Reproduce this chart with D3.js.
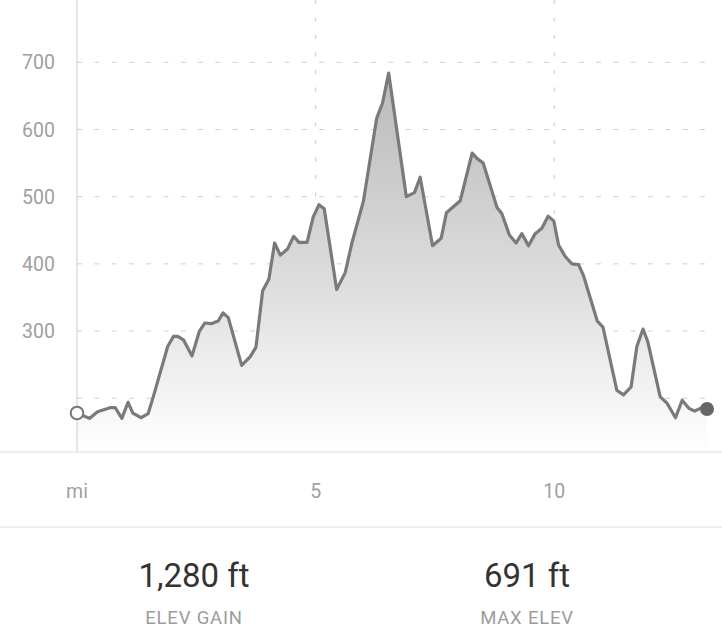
<!DOCTYPE html>
<html>
<head>
<meta charset="utf-8">
<script src="https://cdn.jsdelivr.net/npm/d3@7"></script>
<style>
  html, body { margin: 0; padding: 0; background: #fff; }
  svg { display: block; }
  text { font-family: Roboto, "Liberation Sans", sans-serif; }
</style>
</head>
<body>
<svg id="chart" width="722" height="642"></svg>
<script>
// Distance (miles) along the route
const distance = [0, 0.26, 0.43, 0.69, 0.80, 0.94, 1.07, 1.17, 1.34, 1.49,
  1.61, 1.90, 2.02, 2.11, 2.23, 2.41, 2.56, 2.68, 2.81, 2.96,
  3.06, 3.17, 3.45, 3.63, 3.75, 3.89, 4.02, 4.14, 4.26, 4.41,
  4.54, 4.65, 4.82, 4.95, 5.07, 5.18, 5.44, 5.62, 5.76, 6.00,
  6.28, 6.40, 6.53, 6.90, 7.07, 7.19, 7.45, 7.63, 7.74, 8.03,
  8.28, 8.38, 8.51, 8.80, 8.90, 9.06, 9.20, 9.32, 9.46, 9.60,
  9.74, 9.87, 9.99, 10.09, 10.23, 10.37, 10.51, 10.61, 10.90, 11.02,
  11.31, 11.45, 11.61, 11.73, 11.86, 11.96, 12.22, 12.36, 12.54, 12.68,
  12.82, 12.94, 13.06, 13.20];
// Elevation (ft)
const elevation = [178, 170, 180, 186, 186, 170, 194, 178, 171, 177,
  205, 277, 292, 292, 287, 263, 299, 312, 311, 315,
  327, 320, 249, 262, 276, 360, 377, 431, 413, 422,
  441, 432, 432, 470, 488, 482, 362, 387, 431, 493,
  617, 639, 684, 500, 506, 529, 427, 438, 476, 494,
  565, 557, 550, 484, 475, 443, 431, 445, 427, 445,
  453, 471, 464, 428, 411, 400, 399, 383, 315, 306,
  212, 205, 217, 277, 303, 284, 202, 193, 171, 197,
  185, 181, 185, 184];
const yTicks = [200, 300, 400, 500, 600, 700];
const yTickLabels = ["", "300", "400", "500", "600", "700"];
const xTicks = [0, 5, 10];
const xTickLabels = ["mi", "5", "10"];
const statValues = ["1,280 ft", "691 ft"];
const statLabels = ["ELEV GAIN", "MAX ELEV"];

const data = distance.map((d, i) => ({ d, e: elevation[i] }));

const svg = d3.select("#chart");
const x0 = 77, x1 = 707, yBase = 452, yTop700 = 62.3;

const x = d3.scaleLinear().domain([0, 13.2]).range([x0, x1]);
const y = d3.scaleLinear().domain([120, 700]).range([yBase, yTop700]);

// gradient
const defs = svg.append("defs");
const grad = defs.append("linearGradient")
  .attr("id", "fillGrad").attr("gradientUnits", "userSpaceOnUse")
  .attr("x1", 0).attr("x2", 0).attr("y1", y(700)).attr("y2", yBase);
grad.append("stop").attr("offset", "0%").attr("stop-color", "#b8b8b8");
grad.append("stop").attr("offset", "55%").attr("stop-color", "#dcdcdc");
grad.append("stop").attr("offset", "100%").attr("stop-color", "#ffffff");

// horizontal dashed grid
svg.append("g").selectAll("line").data(yTicks).join("line")
  .attr("x1", x0).attr("x2", x1)
  .attr("y1", d => y(d)).attr("y2", d => y(d))
  .attr("stroke", "#cfcfcf").attr("stroke-width", 1)
  .attr("stroke-dasharray", "5,12.3");

// vertical dashed grid
svg.append("g").selectAll("line").data(xTicks.slice(1)).join("line")
  .attr("x1", d => x(d)).attr("x2", d => x(d))
  .attr("y1", 0).attr("y2", yBase)
  .attr("stroke", "#cfcfcf").attr("stroke-width", 1.2)
  .attr("stroke-dasharray", "4,13.5");

// area
const area = d3.area().x(d => x(d.d)).y0(yBase).y1(d => y(d.e));
svg.append("path").datum(data).attr("d", area).attr("fill", "url(#fillGrad)");

// vertical axis line
svg.append("line").attr("x1", x0).attr("x2", x0).attr("y1", 0).attr("y2", yBase)
  .attr("stroke", "#cccccc").attr("stroke-width", 1);

// baseline and separator
svg.append("line").attr("x1", 0).attr("x2", 722).attr("y1", yBase).attr("y2", yBase)
  .attr("stroke", "#dddddd").attr("stroke-width", 1.2);
svg.append("line").attr("x1", 0).attr("x2", 722).attr("y1", 527).attr("y2", 527)
  .attr("stroke", "#dddddd").attr("stroke-width", 1.2);

// line
const line = d3.line().x(d => x(d.d)).y(d => y(d.e));
svg.append("path").datum(data).attr("d", line)
  .attr("fill", "none").attr("stroke", "#7a7a7a").attr("stroke-width", 3.2)
  .attr("stroke-linejoin", "round");

// markers
const first = data[0], last = data[data.length - 1];
svg.append("circle").attr("cx", x(first.d)).attr("cy", y(first.e)).attr("r", 6.3)
  .attr("fill", "#fff").attr("stroke", "#777").attr("stroke-width", 2);
svg.append("circle").attr("cx", x(last.d)).attr("cy", y(last.e)).attr("r", 7)
  .attr("fill", "#666");

// y tick labels
svg.append("g").selectAll("text").data(yTicks).join("text")
  .attr("x", 55).attr("y", d => y(d))
  .attr("dy", "0.36em").attr("text-anchor", "end")
  .attr("font-size", 19.5).attr("fill", "#a0a0a0")
  .text((d, i) => yTickLabels[i]);

// x tick labels
svg.append("g").selectAll("text").data(xTicks).join("text")
  .attr("x", d => x(d)).attr("y", 491)
  .attr("dy", "0.36em").attr("text-anchor", "middle")
  .attr("font-size", 19.5).attr("fill", "#a0a0a0")
  .text((d, i) => xTickLabels[i]);

// stats
const statX = [194, 527];
svg.append("g").selectAll("text").data(statValues).join("text")
  .attr("x", (d, i) => statX[i]).attr("y", 587)
  .attr("text-anchor", "middle").attr("font-size", 33).attr("fill", "#333")
  .text(d => d);
svg.append("g").selectAll("text").data(statLabels).join("text")
  .attr("x", (d, i) => statX[i]).attr("y", 624)
  .attr("text-anchor", "middle").attr("font-size", 18.5).attr("fill", "#9c9c9c")
  .attr("letter-spacing", "0.8px")
  .text(d => d);
</script>
</body>
</html>
